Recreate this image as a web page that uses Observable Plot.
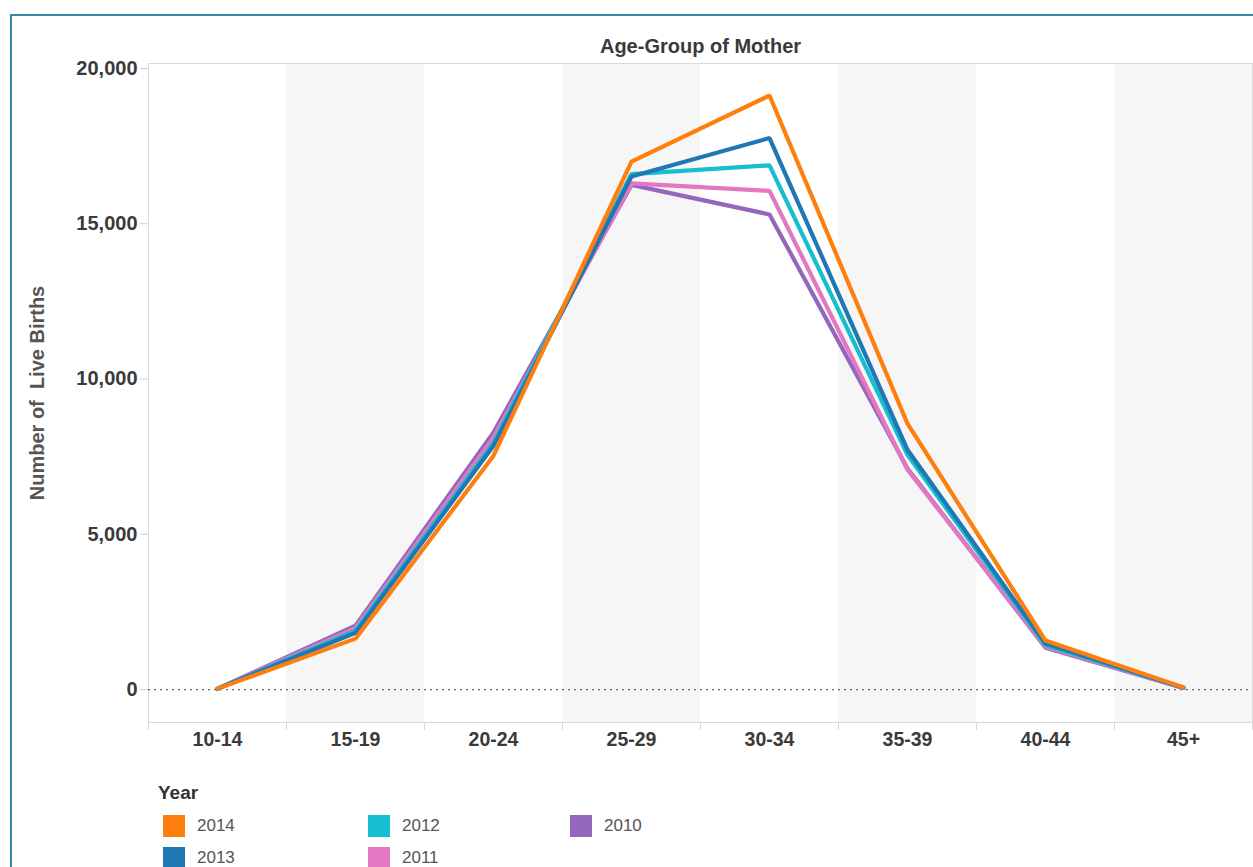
<!DOCTYPE html>
<html>
<head>
<meta charset="utf-8">
<script src="https://cdn.jsdelivr.net/npm/d3@7"></script>
<script src="https://cdn.jsdelivr.net/npm/@observablehq/plot@0.6"></script>
<style>
  html, body { margin: 0; padding: 0; background: #fff; overflow: hidden; }
  body { width: 1253px; height: 867px; position: relative; font-family: "Liberation Sans", Arial, sans-serif; }
  #border { position: absolute; left: 10px; top: 14px; width: 1300px; height: 900px; border: 2px solid #2f8aa2; box-sizing: border-box; pointer-events: none; }
  #chart { position: absolute; left: 0; top: 0; }
  #chart svg text { white-space: pre; }
  #legend { position: absolute; left: 0; top: 0; }
  .ltitle { position: absolute; left: 158px; top: 782px; font-size: 19px; font-weight: bold; color: #333; }
  .item { position: absolute; font-size: 17px; color: #555; line-height: 22px; }
  .sw { position: absolute; width: 22px; height: 22px; }
  .item span.lab { position: absolute; left: 34px; top: 0; white-space: nowrap; }
</style>
</head>
<body>
<div id="chart"></div>
<div id="legend"></div>
<div id="border"></div>
<script>
// ---- data ----
const ageGroups = ["10-14", "15-19", "20-24", "25-29", "30-34", "35-39", "40-44", "45+"];
const years = ["2014", "2013", "2012", "2011", "2010"];
const colors = ["#ff7f0e", "#1f77b4", "#17becf", "#e377c2", "#9467bd"];
const births2014 = [30, 1640, 7530, 17000, 19130, 8560, 1580, 70];
const births2013 = [30, 1830, 7850, 16520, 17760, 7720, 1480, 60];
const births2012 = [25, 1900, 7950, 16600, 16880, 7560, 1430, 60];
const births2011 = [25, 1980, 8120, 16300, 16060, 7080, 1380, 55];
const births2010 = [25, 2060, 8280, 16250, 15300, 7120, 1350, 55];
const yTicks = [0, 5000, 10000, 15000, 20000];
const chartTitle = "Age-Group of Mother";
const yTitle = "Number of  Live Births";
const legendTitle = "Year";

const seriesByYear = {"2014": births2014, "2013": births2013, "2012": births2012, "2011": births2011, "2010": births2010};
// draw order: 2010 first, 2014 on top
const drawOrder = [...years].reverse();
const rows = drawOrder.flatMap(yr => seriesByYear[yr].map((v, i) => ({year: yr, idx: i, value: v})));
const shaded = ageGroups.map((g, i) => i).filter(i => i % 2 === 1);
const boundaries = d3.range(ageGroups.length + 1).map(i => i - 0.5);
const yDomain = [-1060, 20160];

const font = "'Liberation Sans', Arial, sans-serif";
const chart = Plot.plot({
  width: 1253,
  height: 770,
  marginLeft: 148,
  marginRight: 1,
  marginTop: 63,
  marginBottom: 48,
  style: {fontFamily: font, background: "transparent"},
  x: {type: "linear", domain: [-0.5, ageGroups.length - 0.5]},
  y: {domain: yDomain},
  color: {domain: years, range: colors},
  marks: [
    Plot.rect(shaded, {x1: i => i - 0.5, x2: i => i + 0.5, y1: () => yDomain[0], y2: () => yDomain[1], fill: "#f6f6f6"}),
    Plot.frame({stroke: "#dadada"}),
    Plot.ruleX(boundaries, {stroke: "#dadada", insetTop: 659, insetBottom: -8}),
    Plot.ruleY([0], {stroke: "#666", strokeDasharray: "2,4", strokeWidth: 1.2}),
    Plot.axisY({ticks: yTicks, tickFormat: d3.format(","), tickSize: 8, tickPadding: 3,
      stroke: "#d0d0d0", fill: "#3a3a3a", fontSize: 20, fontWeight: "bold", label: null}),
    Plot.axisX({ticks: d3.range(ageGroups.length), tickFormat: i => ageGroups[i], tickSize: 0, tickPadding: 10,
      fill: "#3a3a3a", fontSize: 19.5, fontWeight: "bold", label: null}),
    Plot.line(rows, {x: "idx", y: "value", z: "year", stroke: "year", strokeWidth: 4.2, strokeLinejoin: "miter", strokeLinecap: "round"}),
    Plot.text([chartTitle], {frameAnchor: "top", dy: -25, fontSize: 20, fontWeight: "bold", fill: "#3a3a3a"}),
    Plot.text([yTitle], {frameAnchor: "left", textAnchor: "middle", rotate: -90, dx: -111, fontSize: 20, fontWeight: "bold", fill: "#555"})
  ]
});
document.getElementById("chart").appendChild(chart);

// ---- legend ----
const legend = document.getElementById("legend");
const t = document.createElement("div");
t.className = "ltitle";
t.textContent = legendTitle;
legend.appendChild(t);
const colX = [163, 368, 570];
const rowY = [815, 847];
years.forEach((yr, k) => {
  const col = Math.floor(k / 2), row = k % 2;
  const it = document.createElement("div");
  it.className = "item";
  it.style.left = colX[col] + "px";
  it.style.top = rowY[row] + "px";
  const sw = document.createElement("div");
  sw.className = "sw";
  sw.style.background = colors[k];
  it.appendChild(sw);
  const lab = document.createElement("span");
  lab.className = "lab";
  lab.textContent = yr;
  it.appendChild(lab);
  legend.appendChild(it);
});
</script>
</body>
</html>
